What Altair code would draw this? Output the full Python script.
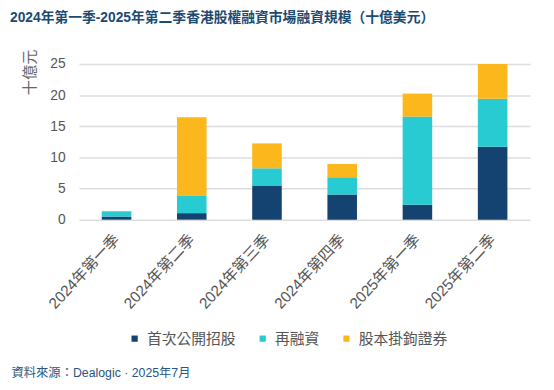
import altair as alt
import pandas as pd

quarters = ["2024年第一季", "2024年第二季", "2024年第三季", "2024年第四季", "2025年第一季", "2025年第二季"]
series = ["首次公開招股", "再融資", "股本掛鉤證券"]
ipo = [0.5, 1.05, 5.5, 4.05, 2.4, 11.7]
refi = [0.85, 2.85, 2.75, 2.75, 14.15, 7.7]
cb = [0.05, 12.55, 4.0, 2.15, 3.7, 5.6]
colors = ["#154371", "#29CBD3", "#FBB71C"]

rows = []
for i, q in enumerate(quarters):
    for k, (s, vals) in enumerate(zip(series, [ipo, refi, cb])):
        rows.append({"季度": q, "類別": s, "值": vals[i], "序": k})
df = pd.DataFrame(rows)

FONT = "Liberation Sans, Noto Sans CJK TC, sans-serif"

chart = alt.Chart(df).mark_bar(size=30).encode(
    x=alt.X("季度:N", sort=quarters,
            scale=alt.Scale(paddingInner=0.6, paddingOuter=0.3),
            axis=alt.Axis(title="資料來源：Dealogic · 2025年7月", labelAngle=-47, labelAlign="right",
                          labelBaseline="middle", labelPadding=17, labelFontSize=15.5, labelColor="#555555",
                          labelFont=FONT, domain=False, ticks=False,
                          titleX=-69, titleY=155, titleAnchor="start", titleAlign="left",
                          titleBaseline="middle", titleFontSize=12.5, titleFontWeight="normal",
                          titleColor="#2A5580", titleFont=FONT)),
    y=alt.Y("值:Q", stack="zero", scale=alt.Scale(domain=[0, 25], nice=False, clamp=False),
            axis=alt.Axis(title="十億元", values=[0, 5, 10, 15, 20, 25], labelFontSize=14,
                          labelColor="#555555", labelFont=FONT, labelPadding=14,
                          domain=False, ticks=False, gridColor="#DDDDDD", gridWidth=1.5,
                          titleX=-50, titleY=8, titleAngle=-90, titleAlign="center",
                          titleBaseline="middle", titleFontSize=15.5, titleFontWeight="normal",
                          titleColor="#666666", titleFont=FONT)),
    color=alt.Color("類別:N", sort=series, scale=alt.Scale(domain=series, range=colors),
                    legend=alt.Legend(title=None, orient="none", direction="horizontal",
                                      legendX=49, legendY=271, symbolType="square", symbolSize=40,
                                      labelFontSize=15, labelColor="#555555", labelFont=FONT,
                                      labelOffset=5, columnPadding=19, symbolStrokeWidth=0)),
    order=alt.Order("序:Q"),
).properties(
    width=458, height=158,
    title=alt.TitleParams("2024年第一季-2025年第二季香港股權融資市場融資規模（十億美元）",
                          anchor="start", frame="group", dx=-70, fontSize=14, fontWeight="bold",
                          color="#1B4A72", font=FONT, offset=24),
    autosize=alt.AutoSizeParams(type="none"),
    padding={"left": 72, "top": 54, "right": 16, "bottom": 168},
).configure_view(stroke=None)

chart.save("out.html", embed_options={"renderer": "svg", "actions": False})
